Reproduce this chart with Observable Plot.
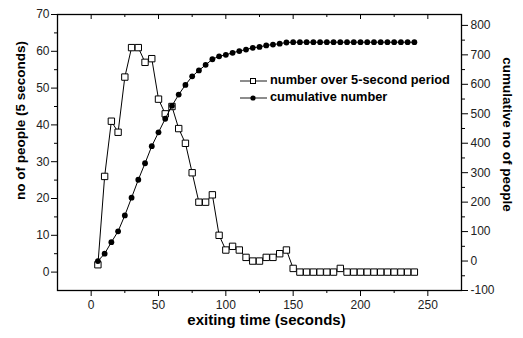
<!DOCTYPE html>
<html><head><meta charset="utf-8">
<script src="https://cdn.jsdelivr.net/npm/d3@7"></script>
<script src="https://cdn.jsdelivr.net/npm/@observablehq/plot@0.6"></script>
<style>
html,body{margin:0;padding:0;background:#fff;}
#wrap{position:relative;width:523px;height:338px;font-family:"Liberation Sans",Arial,sans-serif;}
#legend{position:absolute;left:0;top:0;pointer-events:none;}
</style></head><body><div id="wrap"></div>
<script>
const times = [5,10,15,20,25,30,35,40,45,50,55,60,65,70,75,80,85,90,95,100,105,110,115,120,125,130,135,140,145,150,155,160,165,170,175,180,185,190,195,200,205,210,215,220,225,230,235,240];
const perPeriod = [2,26,41,38,53,61,61,57,58,47,43,45,39,35,27,19,19,21,10,6,7,6,4,3,3,4,4,5,6,1,0,0,0,0,0,0,1,0,0,0,0,0,0,0,0,0,0,0];
const cumulative = [0,25,64,101,155,215,276,332,390,437,483,527,565,598,627,647,666,685,695,700,707,713,718,724,727,732,735,738,742,743,743,743,743,743,743,743,743,743,743,743,743,743,743,743,743,743,743,743];
const xTicks = [0,50,100,150,200,250];
const xMinorTicks = [25,75,125,175,225];
const leftTicks = [0,10,20,30,40,50,60,70];
const leftMinorTicks = [5,15,25,35,45,55,65];
const rightTicks = [-100,0,100,200,300,400,500,600,700,800];
const rightMinorTicks = [-50,50,150,250,350,450,550,650,750];
const seriesNames = ["number over 5-second period","cumulative number"];
const xTitle = "exiting time (seconds)";
const leftTitle = "no of people (5 seconds)";
const rightTitle = "cumulative no of people";

// left scale [-5,70] and right scale [-100,837] share the same frame
const L0 = -5, L1 = 70, R0 = -100, R1 = 837;
const toLeft = v => L0 + (v - R0) * (L1 - L0) / (R1 - R0);
const toRight = v => Math.round(R0 + (v - L0) * (R1 - R0) / (L1 - L0));

const rows = times.map((t, i) => ({t, n: perPeriod[i], c: toLeft(cumulative[i])}));
const font = "Liberation Sans, Arial, sans-serif";

const chart = Plot.plot({
  width: 523, height: 338,
  marginLeft: 57, marginRight: 62, marginTop: 14, marginBottom: 48,
  x: {domain: [-25, 275]},
  y: {domain: [L0, L1]},
  style: {fontFamily: font, fontSize: "12px", color: "#000", background: "#fff"},
  marks: [
    Plot.axisX(xTicks, {anchor: "bottom", tickSize: 6, tickPadding: 4, label: null, fill: "#222", fontSize: 12}),
    Plot.axisX(xMinorTicks, {anchor: "bottom", tickSize: 3, fill: "none", label: null}),
    Plot.axisX(xTicks, {anchor: "bottom", frameAnchor: "top", tickSize: 5, fill: "none", label: null}),
    Plot.axisX(xMinorTicks, {anchor: "bottom", frameAnchor: "top", tickSize: 3, fill: "none", label: null}),
    Plot.axisY(leftTicks, {anchor: "left", tickSize: 6, tickPadding: 2, label: null, fill: "#222", fontSize: 12}),
    Plot.axisY(leftMinorTicks, {anchor: "left", tickSize: 3, fill: "none", label: null}),
    Plot.axisY(rightTicks.map(toLeft), {anchor: "right", tickSize: 6, tickPadding: 3, label: null, fill: "#222", fontSize: 12, tickFormat: d => toRight(d)}),
    Plot.axisY(rightMinorTicks.map(toLeft), {anchor: "right", tickSize: 3, fill: "none", label: null}),
    Plot.frame({stroke: "#000", strokeWidth: 1.3}),
    Plot.line(rows, {x: "t", y: "n", stroke: "#000", strokeWidth: 1}),
    Plot.dot(rows, {x: "t", y: "n", symbol: "square", r: 3.6, fill: "#fff", stroke: "#000", strokeWidth: 1}),
    Plot.line(rows, {x: "t", y: "c", stroke: "#000", strokeWidth: 1}),
    Plot.dot(rows, {x: "t", y: "c", symbol: "circle", r: 2.9, fill: "#000", stroke: "none"}),
    Plot.text([xTitle], {frameAnchor: "bottom", text: d => d, textAnchor: "middle", dx: 7, dy: 34, fontSize: 15, fontWeight: "bold", fill: "#000", letterSpacing: "0.5px"}),
    Plot.text([leftTitle], {frameAnchor: "left", text: d => d, textAnchor: "middle", dx: -37, dy: -32, rotate: -90, fontSize: 13.5, fontWeight: "bold", fill: "#000"}),
    Plot.text([rightTitle], {frameAnchor: "right", text: d => d, textAnchor: "middle", dx: 46, dy: -18, rotate: 90, fontSize: 13.5, fontWeight: "bold", fill: "#000"})
  ]
});
const wrap = document.getElementById("wrap");
wrap.appendChild(chart);

// legend overlay
const ns = "http://www.w3.org/2000/svg";
const lg = document.createElementNS(ns, "svg");
lg.setAttribute("id", "legend");
lg.setAttribute("width", 523);
lg.setAttribute("height", 338);
const legendRows = [{y: 81, kind: "square"}, {y: 98, kind: "circle"}];
legendRows.forEach((r, i) => {
  const ln = document.createElementNS(ns, "line");
  ln.setAttribute("x1", 240); ln.setAttribute("x2", 267);
  ln.setAttribute("y1", r.y); ln.setAttribute("y2", r.y);
  ln.setAttribute("stroke", "#000"); ln.setAttribute("stroke-width", 0.9);
  lg.appendChild(ln);
  let m;
  if (r.kind === "square") {
    m = document.createElementNS(ns, "rect");
    m.setAttribute("x", 250.5); m.setAttribute("y", r.y - 2.5);
    m.setAttribute("width", 5); m.setAttribute("height", 5);
    m.setAttribute("fill", "#fff"); m.setAttribute("stroke", "#000");
  } else {
    m = document.createElementNS(ns, "circle");
    m.setAttribute("cx", 253); m.setAttribute("cy", r.y); m.setAttribute("r", 2.6);
    m.setAttribute("fill", "#000");
  }
  lg.appendChild(m);
  const tx = document.createElementNS(ns, "text");
  tx.setAttribute("x", 270); tx.setAttribute("y", r.y);
  tx.setAttribute("dominant-baseline", "middle");
  tx.setAttribute("font-family", font);
  tx.setAttribute("font-size", "12.8px");
  tx.setAttribute("font-weight", "bold");
  tx.textContent = seriesNames[i];
  lg.appendChild(tx);
});
wrap.appendChild(lg);
</script>
</body></html>
